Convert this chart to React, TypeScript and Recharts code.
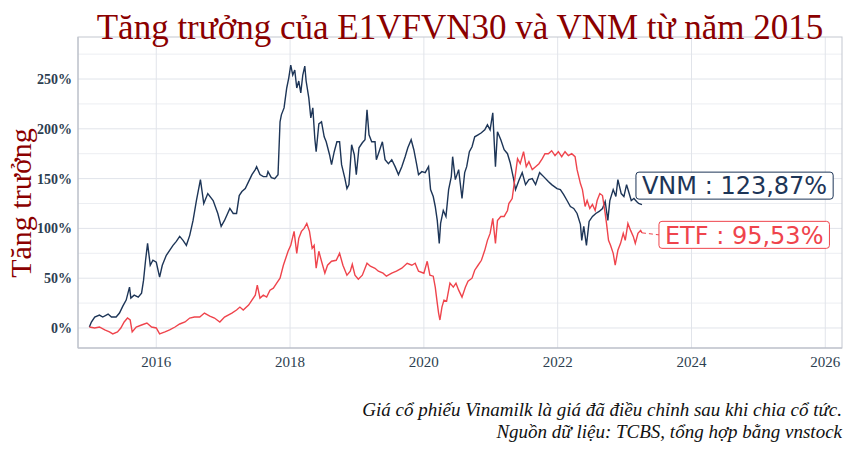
import { LineChart, Line, XAxis, YAxis, CartesianGrid, LabelList } from 'recharts'

// Tăng trưởng cộng dồn (%) so với đầu năm 2015
const vnmDates = [
  2015.0, 2015.03, 2015.08, 2015.15, 2015.2, 2015.28, 2015.33, 2015.4, 2015.45, 2015.5,
  2015.55, 2015.6, 2015.62, 2015.67, 2015.73, 2015.78, 2015.81, 2015.84, 2015.87, 2015.91,
  2015.95, 2016.0, 2016.05, 2016.09, 2016.15, 2016.2, 2016.25, 2016.3, 2016.35, 2016.4,
  2016.45, 2016.5, 2016.55, 2016.6, 2016.64, 2016.66, 2016.71, 2016.77, 2016.85, 2016.92,
  2016.97, 2017.02, 2017.1, 2017.15, 2017.2, 2017.24, 2017.28, 2017.33, 2017.38, 2017.43,
  2017.48, 2017.5, 2017.55, 2017.6, 2017.65, 2017.67, 2017.72, 2017.77, 2017.82, 2017.85,
  2017.87, 2017.91, 2017.95, 2017.98, 2018.01, 2018.04, 2018.07, 2018.1, 2018.13, 2018.16,
  2018.19, 2018.22, 2018.24, 2018.28, 2018.31, 2018.34, 2018.37, 2018.39, 2018.43, 2018.47,
  2018.51, 2018.54, 2018.59, 2018.62, 2018.66, 2018.7, 2018.74, 2018.77, 2018.82, 2018.85,
  2018.88, 2018.92, 2018.96, 2018.99, 2019.03, 2019.08, 2019.12, 2019.15, 2019.18, 2019.22,
  2019.27, 2019.29, 2019.34, 2019.38, 2019.42, 2019.47, 2019.52, 2019.57, 2019.62, 2019.67,
  2019.72, 2019.76, 2019.81, 2019.85, 2019.89, 2019.92, 2019.97, 2020.02, 2020.07, 2020.1,
  2020.14, 2020.17, 2020.2, 2020.23, 2020.25, 2020.29, 2020.33, 2020.37, 2020.41, 2020.43,
  2020.47, 2020.52, 2020.57, 2020.61, 2020.64, 2020.68, 2020.72, 2020.76, 2020.81, 2020.86,
  2020.91, 2020.95, 2020.99, 2021.03, 2021.07, 2021.1, 2021.15, 2021.2, 2021.25, 2021.29,
  2021.34, 2021.37, 2021.42, 2021.47, 2021.52, 2021.57, 2021.62, 2021.67, 2021.73, 2021.79,
  2021.86, 2021.91, 2021.99, 2022.04, 2022.09, 2022.14, 2022.19, 2022.24, 2022.29, 2022.34,
  2022.36, 2022.39, 2022.43, 2022.47, 2022.52, 2022.57, 2022.62, 2022.67, 2022.71, 2022.75,
  2022.78, 2022.83, 2022.87, 2022.9, 2022.95, 2022.99, 2023.03, 2023.06, 2023.1, 2023.14,
  2023.18, 2023.21, 2023.26,
]
const vnmValues = [
  1, 6, 11, 13, 11, 14, 11, 11, 15, 22,
  28, 41, 30, 33, 31, 35, 48, 68, 85, 63,
  68, 66, 51, 63, 73, 78, 83, 87, 92, 88,
  83, 93, 108, 128, 142, 149, 125, 135, 128, 115,
  102, 108, 120, 115, 115, 133, 137, 140, 147, 154,
  159, 162, 154, 152, 152, 157, 151, 150, 154, 207,
  214, 221, 241, 251, 264, 254, 259, 241, 248, 236,
  254, 263, 248, 231, 211, 221, 190, 177, 205, 207,
  192, 187, 174, 164, 177, 187, 187, 164, 150, 140,
  144, 184, 174, 154, 181, 186, 189, 219, 194, 187,
  187, 169, 179, 187, 169, 165, 169, 162, 154, 162,
  172, 181, 189, 179, 165, 154, 157, 156, 162, 139,
  132, 122, 108, 85, 105, 118, 112, 139, 152, 172,
  149, 159, 130, 156, 162, 177, 182, 192, 194, 196,
  199, 204, 199, 216, 162, 197, 189, 179, 175, 166,
  150, 139, 148, 156, 144, 149, 150, 144, 156, 152,
  147, 144, 140, 139, 134, 128, 122, 120, 115, 104,
  88, 102, 83, 107, 112, 115, 117, 120, 127, 108,
  128, 139, 132, 149, 135, 132, 144, 137, 128, 130,
  127, 125, 123.87,
]

const etfDates = [
  2015.0, 2015.08, 2015.15, 2015.23, 2015.3, 2015.35, 2015.42, 2015.47, 2015.52, 2015.57,
  2015.61, 2015.64, 2015.7, 2015.78, 2015.86, 2015.93, 2016.0, 2016.05, 2016.13, 2016.2,
  2016.28, 2016.35, 2016.43, 2016.5, 2016.57, 2016.65, 2016.72, 2016.8, 2016.87, 2016.95,
  2017.02, 2017.13, 2017.2, 2017.25, 2017.3, 2017.38, 2017.43, 2017.48, 2017.51, 2017.55,
  2017.6, 2017.65, 2017.7, 2017.75, 2017.8, 2017.85, 2017.9, 2017.92, 2017.97, 2018.01,
  2018.06, 2018.1, 2018.13, 2018.17, 2018.21, 2018.25, 2018.29, 2018.33, 2018.36, 2018.39,
  2018.43, 2018.47, 2018.52, 2018.56, 2018.62, 2018.69, 2018.74, 2018.79, 2018.85, 2018.9,
  2018.93, 2018.97, 2019.02, 2019.08, 2019.15, 2019.2, 2019.27, 2019.32, 2019.39, 2019.44,
  2019.52, 2019.59, 2019.67, 2019.75, 2019.82, 2019.87, 2019.92, 2020.0, 2020.05, 2020.09,
  2020.14, 2020.17, 2020.2, 2020.22, 2020.24, 2020.27, 2020.3, 2020.34, 2020.39, 2020.44,
  2020.48, 2020.52, 2020.57, 2020.62, 2020.66, 2020.72, 2020.76, 2020.81, 2020.86, 2020.91,
  2020.95, 2020.99, 2021.03, 2021.07, 2021.1, 2021.15, 2021.2, 2021.25, 2021.27, 2021.32,
  2021.37, 2021.4, 2021.44, 2021.49, 2021.53, 2021.57, 2021.62, 2021.67, 2021.72, 2021.77,
  2021.81, 2021.86, 2021.91, 2021.96, 2022.01, 2022.06, 2022.11, 2022.16, 2022.21, 2022.26,
  2022.29, 2022.34, 2022.37, 2022.41, 2022.44, 2022.48, 2022.52, 2022.56, 2022.59, 2022.63,
  2022.67, 2022.71, 2022.73, 2022.76, 2022.79, 2022.83, 2022.86, 2022.9, 2022.94, 2022.98,
  2023.01, 2023.05, 2023.09, 2023.13, 2023.16, 2023.2, 2023.24, 2023.26,
]
const etfValues = [
  1, 0, 1, -2, -4, -6, -4, 0, 6, 10,
  8, -4, 1, 3, 5, 1, 0, -6, -4, -2,
  1, 4, 6, 10, 11, 11, 15, 12, 10, 6,
  11, 15, 18, 21, 18, 23, 28, 33, 43, 30,
  33, 31, 38, 40, 45, 50, 63, 67, 77, 83,
  97, 75, 90, 97, 100, 105, 97, 80, 83, 60,
  77, 67, 55, 63, 67, 68, 75, 63, 53, 57,
  64, 53, 49, 53, 65, 62, 60, 57, 55, 52,
  55, 57, 60, 65, 63, 65, 57, 55, 67, 53,
  52, 41, 25, 15, 8, 21, 28, 27, 45, 41,
  45, 38, 31, 41, 47, 50, 58, 63, 68, 78,
  88, 95, 110, 85, 108, 112, 112, 118, 125, 130,
  155, 170, 165, 177, 162, 167, 159, 162, 165, 170,
  175, 175, 178, 173, 177, 172, 177, 173, 175, 172,
  159, 145, 139, 122, 128, 120, 124, 118, 128, 135,
  133, 115, 105, 88, 83, 75, 63, 78, 85, 95,
  88, 105, 98, 92, 85, 95, 98, 95.53,
]

const yearTicks = [2016, 2018, 2020, 2022, 2024, 2026]
const pctTicks = [0, 50, 100, 150, 200, 250]
const pctMinor = [25, 75, 125, 175, 225, 275]

const vnmData = vnmDates.map((t, i) => ({ t, v: vnmValues[i] }))
const etfData = etfDates.map((t, i) => ({ t, v: etfValues[i] }))

const NAVY = '#1d3557'
const RED = '#ef444c'
const DARKRED = '#8b0000'
const TICK = '#2c3e50'

const LABEL_FONT = '24px "DejaVu Sans"'

function measure(text: string) {
  const ctx = document.createElement('canvas').getContext('2d')
  if (!ctx) return text.length * 14
  ctx.font = LABEL_FONT
  return ctx.measureText(text).width
}

// nhãn giá trị cuối cho từng đường (kiểu ggrepel)
function endLabel(name: string, color: string, lastIndex: number, dx: number, dy: number, connector: boolean) {
  return (props: any) => {
    const { x, y, index, value } = props
    if (index !== lastIndex) return null
    const text = `${name} : ${Number(value).toFixed(2).replace('.', ',')}%`
    const w = measure(text) + 12
    const h = 27
    const bx = x + dx
    const cy = y + dy
    return (
      <g>
        {connector && (
          <line x1={x} y1={y} x2={bx} y2={cy} stroke={color} strokeWidth={1} strokeDasharray="4 3" />
        )}
        <rect x={bx} y={cy - h / 2} width={w} height={h} rx={3} fill="#fff" stroke={color} strokeWidth={1} />
        <text x={bx + 6} y={cy + 8.7} fill={color} style={{ font: LABEL_FONT }}>
          {text}
        </text>
      </g>
    )
  }
}

export default function App() {
  return (
    <div style={{ position: 'absolute', left: 0, top: 0, width: 850, height: 450, background: '#fff' }}>
      <LineChart width={850} height={450} margin={{ top: 37, right: 8, bottom: 72, left: 28 }}>
        <CartesianGrid horizontalValues={pctMinor} vertical={false} stroke="#eceef2" strokeWidth={1} />
        <CartesianGrid horizontalValues={pctTicks} verticalValues={yearTicks} stroke="#e1e4ea" strokeWidth={1} />
        <XAxis
          dataKey="t"
          type="number"
          domain={[2014.83, 2026.25]}
          ticks={yearTicks}
          allowDataOverflow
          height={30}
          tickLine={false}
          axisLine={{ stroke: '#aab0bc' }}
          tick={{ fill: TICK, fontSize: 15, fontFamily: '"Liberation Serif", serif' }}
        />
        <YAxis
          type="number"
          domain={[-20.1, 292.2]}
          ticks={pctTicks}
          allowDataOverflow
          width={50}
          tickLine={false}
          tickSize={4}
          tickMargin={2}
          axisLine={{ stroke: '#aab0bc' }}
          tickFormatter={(v: number) => `${v}%`}
          tick={{ fill: TICK, fontSize: 14, fontWeight: 700, fontFamily: '"Liberation Serif", serif' }}
        />
        <Line
          data={vnmData}
          dataKey="v"
          stroke={NAVY}
          strokeWidth={1.4}
          dot={false}
          isAnimationActive={false}
        >
          <LabelList dataKey="v" content={endLabel('VNM', NAVY, vnmData.length - 1, -6, -19, false)} />
        </Line>
        <Line
          data={etfData}
          dataKey="v"
          stroke={RED}
          strokeWidth={1.4}
          dot={false}
          isAnimationActive={false}
        >
          <LabelList dataKey="v" content={endLabel('ETF', RED, etfData.length - 1, 17, 2, true)} />
        </Line>
      </LineChart>
      <svg
        width={850}
        height={450}
        style={{ position: 'absolute', left: 0, top: 0, pointerEvents: 'none' }}
      >
        <rect x={78} y={37} width={764} height={311} fill="none" stroke="#c3c7d0" strokeWidth={1} />
        <text
          x={460}
          y={39}
          textAnchor="middle"
          fill={DARKRED}
          style={{ font: '35px "Liberation Serif", serif' }}
        >
          Tăng trưởng của E1VFVN30 và VNM từ năm 2015
        </text>
        <text
          x={31}
          y={203}
          textAnchor="middle"
          transform="rotate(-90 31 203)"
          fill={DARKRED}
          style={{ font: '30px "Liberation Serif", serif' }}
        >
          Tăng trưởng
        </text>
        <text x={842} y={416} textAnchor="end" fill="#111" style={{ font: 'italic 19px "Liberation Serif", serif' }}>
          Giá cổ phiếu Vinamilk là giá đã điều chỉnh sau khi chia cổ tức.
        </text>
        <text x={842} y={438} textAnchor="end" fill="#111" style={{ font: 'italic 19px "Liberation Serif", serif' }}>
          Nguồn dữ liệu: TCBS, tổng hợp bằng vnstock
        </text>
      </svg>
    </div>
  )
}
